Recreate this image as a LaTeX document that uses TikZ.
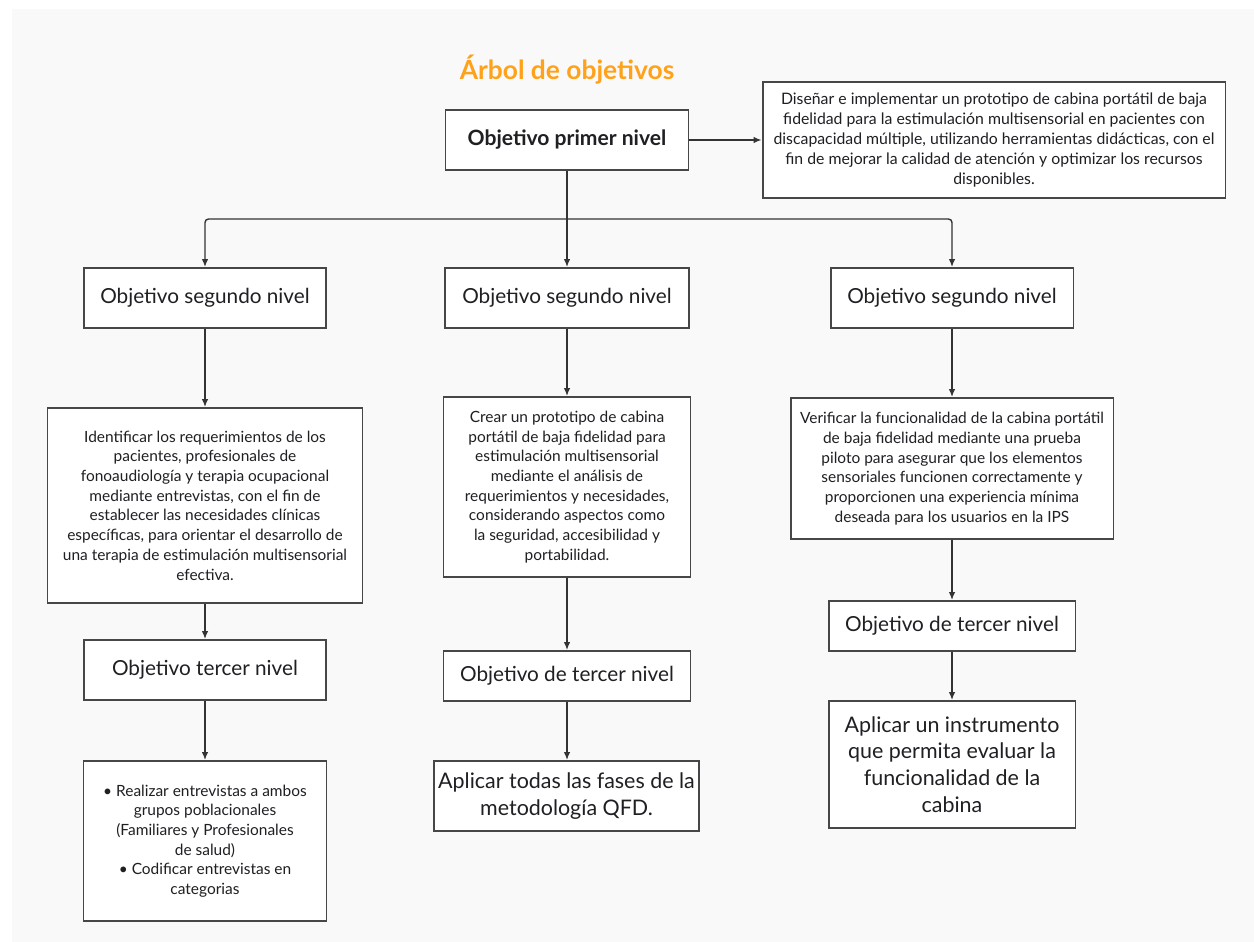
\documentclass[tikz,border=0pt]{standalone}
\usepackage{fontspec}
\setmainfont{Lato}
\usetikzlibrary{arrows.meta,positioning}
\definecolor{titleOrange}{HTML}{FFA21A}
\definecolor{boxLine}{HTML}{474747}
\definecolor{linkLine}{HTML}{333333}
\definecolor{pageGray}{HTML}{F9F9F9}
\definecolor{inkDark}{HTML}{1F1F24}

\begin{document}
\begin{tikzpicture}[
      x=0.02cm, y=-0.02cm,
      goalbox/.style={rectangle, draw=boxLine, line width=1.1pt, fill=white, align=center, inner sep=0pt, text=inkDark},
      levelbox/.style={goalbox, font=\fontsize{11.8}{14}\selectfont, minimum height=1.2cm},
      notebox/.style={goalbox, font=\fontsize{8.8}{11.2}\selectfont},
      finalbox/.style={goalbox, font=\fontsize{12.2}{15.2}\selectfont},
      link/.style={draw=linkLine, line width=0.8pt},
      arrow/.style={link, -{Latex[length=1.6mm, width=1.3mm]}}
    ]
      \useasboundingbox (0,0) rectangle (1254,942);
      \fill[pageGray] (12,9) rectangle (1254,942);

      % title and first level
      \node[font=\fontsize{15}{18}\selectfont\bfseries, text=titleOrange] (title) at (567,70) {Árbol de objetivos};
      \node[goalbox, font=\fontsize{12}{14}\selectfont\bfseries, minimum width=4.86cm, minimum height=1.2cm] (top) at (567,140) {Objetivo primer nivel};
      \node[notebox, font=\fontsize{9}{11.3}\selectfont, minimum width=9.26cm, minimum height=2.32cm] (desc) at (994,140) {Diseñar e implementar un prototipo de cabina portátil de baja\\fidelidad para la estimulación multisensorial en pacientes con\\discapacidad múltiple, utilizando herramientas didácticas, con el\\fin de mejorar la calidad de atención y optimizar los recursos\\disponibles.};

      % second level
      \node[levelbox, minimum width=4.84cm] (s1) at (205,298) {Objetivo segundo nivel};
      \node[levelbox, minimum width=4.88cm] (s2) at (567,298) {Objetivo segundo nivel};
      \node[levelbox, minimum width=4.86cm] (s3) at (952,298) {Objetivo segundo nivel};

      \node[notebox, minimum width=6.3cm, minimum height=3.9cm] (d1) at (205,505.5) {Identificar los requerimientos de los\\pacientes, profesionales de\\fonoaudiología y terapia ocupacional\\mediante entrevistas, con el fin de\\establecer las necesidades clínicas\\específicas, para orientar el desarrollo de\\una terapia de estimulación multisensorial\\efectiva.};
      \node[notebox, minimum width=4.94cm, minimum height=3.6cm] (d2) at (567,487) {Crear un prototipo de cabina\\portátil de baja fidelidad para\\estimulación multisensorial\\mediante el análisis de\\requerimientos y necesidades,\\considerando aspectos como\\la seguridad, accesibilidad y\\portabilidad.};
      \node[notebox, minimum width=6.46cm, minimum height=2.82cm] (d3) at (952,468.5) {Verificar la funcionalidad de la cabina portátil\\de baja fidelidad mediante una prueba\\piloto para asegurar que los elementos\\sensoriales funcionen correctamente y\\proporcionen una experiencia mínima\\deseada para los usuarios en la IPS};

      % third level
      \node[levelbox, minimum width=4.84cm] (t1) at (205,670) {Objetivo tercer nivel};
      \node[levelbox, minimum width=4.94cm, minimum height=1.0cm] (t2) at (567,676) {Objetivo de tercer nivel};
      \node[levelbox, minimum width=4.94cm, minimum height=1.0cm] (t3) at (952,626) {Objetivo de tercer nivel};

      \node[notebox, minimum width=4.86cm, minimum height=3.2cm] (f1) at (205,841) {\textbullet\ Realizar entrevistas a ambos\\grupos poblacionales\\(Familiares y Profesionales\\de salud)\\\textbullet\ Codificar entrevistas en\\categorias};
      \node[finalbox, minimum width=5.3cm, minimum height=1.4cm] (f2) at (566.5,796) {Aplicar todas las fases de la\\metodología QFD.};
      \node[finalbox, minimum width=4.94cm, minimum height=2.54cm] (f3) at (952,764.5) {Aplicar un instrumento\\que permita evaluar la\\funcionalidad de la\\cabina};

      % connectors
      \coordinate (split) at (567,219);
      \draw[arrow] (top.east) -- (desc.west);
      \draw[link] (top.south) -- (split);
      \draw[arrow, rounded corners=2pt] (split) -| (s1.north);
      \draw[arrow] (split) -- (s2.north);
      \draw[arrow, rounded corners=2pt] (split) -| (s3.north);
      \draw[arrow] (s1) -- (d1);
      \draw[arrow] (d1) -- (t1);
      \draw[arrow] (t1) -- (f1);
      \draw[arrow] (s2) -- (d2);
      \draw[arrow] (d2) -- (t2);
      \draw[arrow] (t2) -- (f2.north -| t2.south);
      \draw[arrow] (s3) -- (d3);
      \draw[arrow] (d3) -- (t3);
      \draw[arrow] (t3) -- (f3);
    \end{tikzpicture}
\end{document}
